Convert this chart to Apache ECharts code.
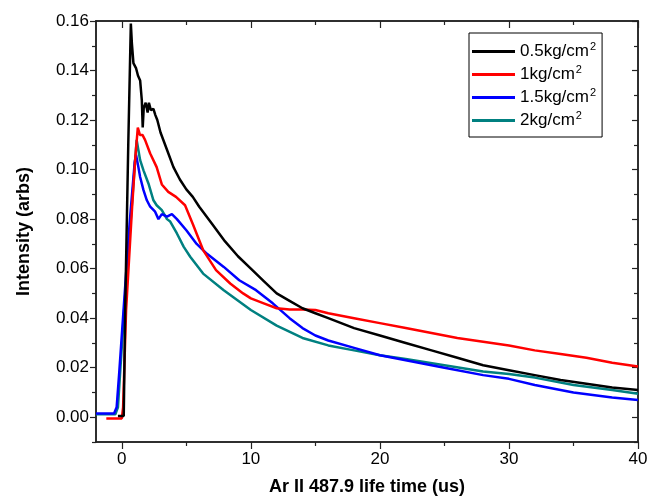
<!DOCTYPE html>
<html>
<head>
<meta charset="utf-8">
<script src="https://cdn.jsdelivr.net/npm/echarts@6/dist/echarts.min.js"></script>
<style>html,body{margin:0;padding:0;background:#fff}#c{width:659px;height:498px}</style>
</head>
<body>
<div id="c"></div>
<script>
// ---- data ----
const seriesNames = ['0.5kg/cm2', '1kg/cm2', '1.5kg/cm2', '2kg/cm2'];
const seriesColors = ['#000000', '#ff0000', '#0000ff', '#008080'];

const blackX = [-0.3, 0.15, 0.26, 0.5, 0.7, 0.78, 0.9, 1.1, 1.25, 1.42, 1.55, 1.62, 1.7, 1.85, 2.0, 2.1, 2.25, 2.45, 2.6, 2.75, 3.0, 3.5, 4.0, 4.5, 5.0, 5.5, 6.0, 7.0, 8.0, 9.0, 10, 11, 12, 13, 14, 15, 16, 17, 18, 20, 22, 24, 26, 28, 30, 32, 34, 36, 38, 40];
const blackY = [0.0005, 0.0005, 0.043, 0.11, 0.159, 0.151, 0.143, 0.141, 0.138, 0.136, 0.128, 0.117, 0.125, 0.127, 0.123, 0.127, 0.124, 0.1245, 0.122, 0.120, 0.115, 0.108, 0.101, 0.096, 0.092, 0.089, 0.085, 0.078, 0.071, 0.065, 0.060, 0.055, 0.050, 0.047, 0.044, 0.042, 0.040, 0.038, 0.036, 0.033, 0.030, 0.027, 0.024, 0.021, 0.019, 0.017, 0.015, 0.0135, 0.012, 0.011];

const redX = [-1.2, 0.0, 0.1, 0.33, 0.8, 1.05, 1.24, 1.4, 1.6, 1.8, 2.2, 2.7, 3.1, 3.6, 4.2, 4.9, 5.5, 6.3, 7.3, 8.4, 9.4, 10, 11, 12, 13, 14, 15, 16, 17, 18, 20, 22, 24, 26, 28, 30, 32, 34, 36, 38, 40];
const redY = [-0.0005, -0.0005, 0.004, 0.043, 0.085, 0.105, 0.117, 0.114, 0.114, 0.112, 0.1065, 0.101, 0.094, 0.091, 0.089, 0.0856, 0.078, 0.0675, 0.0594, 0.054, 0.050, 0.048, 0.046, 0.044, 0.0435, 0.0435, 0.0433, 0.042, 0.041, 0.040, 0.038, 0.036, 0.034, 0.032, 0.0305, 0.029, 0.027, 0.0255, 0.024, 0.022, 0.0205];

const blueX = [-2, -0.6, -0.4, -0.2, 0.13, 0.6, 1.0, 1.1, 1.25, 1.42, 1.68, 1.94, 2.2, 2.58, 2.84, 3.1, 3.5, 3.88, 4.27, 5.0, 5.8, 6.6, 7.9, 9.1, 10.4, 11.7, 13, 14, 15, 16, 18, 20, 22, 25, 28, 30, 32, 35, 38, 40];
const blueY = [0.0015, 0.0015, 0.004, 0.018, 0.043, 0.078, 0.103, 0.106, 0.102, 0.097, 0.0917, 0.0876, 0.085, 0.083, 0.080, 0.082, 0.081, 0.082, 0.080, 0.0755, 0.070, 0.066, 0.0607, 0.0553, 0.0513, 0.046, 0.040, 0.036, 0.033, 0.031, 0.028, 0.025, 0.023, 0.020, 0.017, 0.0155, 0.013, 0.010, 0.008, 0.007];

const tealX = [-2, -0.5, -0.3, 0.2, 0.7, 1.15, 1.42, 1.68, 2.07, 2.45, 2.7, 3.1, 3.5, 3.75, 4.27, 4.8, 5.3, 6.3, 7.9, 10, 12, 14, 16, 18, 20, 22, 25, 28, 30, 32, 35, 38, 40];
const tealY = [0.0012, 0.0012, 0.004, 0.045, 0.08, 0.112, 0.1038, 0.0997, 0.0943, 0.0876, 0.0856, 0.0836, 0.080, 0.079, 0.0742, 0.0688, 0.0648, 0.058, 0.0513, 0.0433, 0.037, 0.032, 0.029, 0.027, 0.025, 0.0235, 0.021, 0.0185, 0.0175, 0.016, 0.013, 0.011, 0.0095];

const xMajorTicks = [0, 10, 20, 30, 40];
const xMinorTicks = [5, 15, 25, 35];
const yMajorTicks = [0, 0.02, 0.04, 0.06, 0.08, 0.10, 0.12, 0.14, 0.16];
const yMinorTicks = [-0.01, 0.01, 0.03, 0.05, 0.07, 0.09, 0.11, 0.13, 0.15];

const xTitle = 'Ar II 487.9 life time (us)';
const yTitle = 'Intensity (arbs)';

// ---- chart ----
const FONT = 'Liberation Sans, Arial, sans-serif';
const X_MIN = -2, X_MAX = 40, Y_MIN = -0.01, Y_MAX = 0.16;
const lineAx = { show: true, onZero: false, lineStyle: { color: '#222', width: 1.5 } };

function xAxisDef(pos, ticks, len, inside, labels) {
  return {
    type: 'value', position: pos, min: X_MIN, max: X_MAX,
    axisLine: lineAx, splitLine: { show: false },
    axisTick: { show: true, inside: inside, length: len, customValues: ticks, lineStyle: { color: '#222', width: 1.2 } },
    axisLabel: labels ? { show: true, customValues: xMajorTicks, color: '#000', fontFamily: FONT, fontSize: 17, margin: 9 } : { show: false }
  };
}
function yAxisDef(pos, ticks, len, inside, labels) {
  return {
    type: 'value', position: pos, min: Y_MIN, max: Y_MAX,
    axisLine: lineAx, splitLine: { show: false },
    axisTick: { show: true, inside: inside, length: len, customValues: ticks, lineStyle: { color: '#222', width: 1.2 } },
    axisLabel: labels ? { show: true, customValues: yMajorTicks, color: '#000', fontFamily: FONT, fontSize: 17, margin: 7,
      formatter: v => v.toFixed(2) } : { show: false }
  };
}

const xs = [blackX, redX, blueX, tealX];
const ys = [blackY, redY, blueY, tealY];

const chart = echarts.init(document.getElementById('c'), null, { renderer: 'canvas' });
chart.setOption({
  backgroundColor: '#fff',
  animation: false,
  grid: { left: 96, right: 21, top: 21, bottom: 56, outerBoundsMode: 'none', containLabel: false },
  xAxis: [
    Object.assign(xAxisDef('bottom', xMajorTicks, 7, false, true), {
      name: xTitle, nameLocation: 'middle', nameGap: 36,
      nameTextStyle: { color: '#000', fontFamily: FONT, fontSize: 18, fontWeight: 'bold' }
    }),
    xAxisDef('bottom', xMinorTicks, 4, false, false),
    xAxisDef('top', xMajorTicks, 7, true, false),
    xAxisDef('top', xMinorTicks, 4, true, false)
  ],
  yAxis: [
    Object.assign(yAxisDef('left', yMajorTicks, 6, false, true), {
      name: yTitle, nameLocation: 'middle', nameGap: 63, nameRotate: 90,
      nameTextStyle: { color: '#000', fontFamily: FONT, fontSize: 18, fontWeight: 'bold' }
    }),
    yAxisDef('left', yMinorTicks, 4, false, false),
    yAxisDef('right', yMajorTicks, 6, true, false),
    yAxisDef('right', yMinorTicks, 4, true, false)
  ],
  legend: {
    show: true,
    orient: 'vertical', left: 469, top: 33,
    data: seriesNames,
    icon: 'rect',
    itemWidth: 43, itemHeight: 3, itemGap: 0,
    padding: [7, 6, 5, 3],
    borderColor: '#000', borderWidth: 1, borderRadius: 0,
    formatter: function (n) { return n.slice(0, -1) + '{sup|2}'; },
    textStyle: {
      color: '#000', fontFamily: FONT, fontSize: 17, lineHeight: 23,
      rich: { sup: { fontFamily: FONT, fontSize: 11, lineHeight: 23, verticalAlign: 'top', padding: [1, 0, 0, 1], color: '#000' } }
    }
  },
  series: seriesNames.map((n, i) => ({
    name: n, type: 'line', xAxisIndex: 0, yAxisIndex: 0,
    symbol: 'none', showSymbol: false, smooth: false,
    color: seriesColors[i],
    itemStyle: { color: seriesColors[i] },
    lineStyle: { color: seriesColors[i], width: 2.5 },
    data: xs[i].map((x, k) => [x, ys[i][k]]),
    z: 10 - i
  }))
});
</script>
</body>
</html>
